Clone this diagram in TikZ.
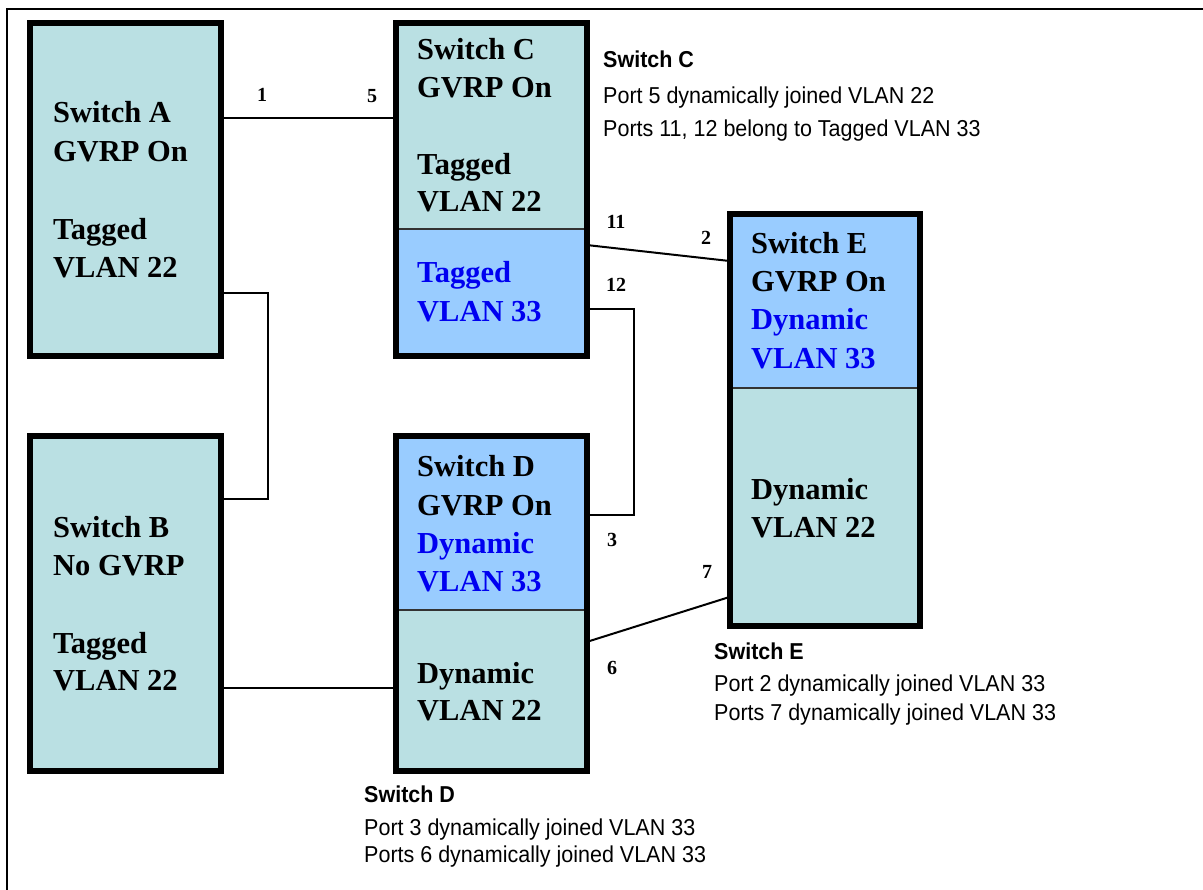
\documentclass[tikz,border=0pt]{standalone}
\usepackage{fontspec}
\setmainfont{Liberation Serif}
\newfontfamily\notefam[FakeStretch=0.935]{Liberation Sans}
\newcommand\boxfont{\fontsize{30.5}{38}\selectfont\bfseries}
\newcommand\portfont{\fontsize{20}{24}\selectfont\bfseries}
\newcommand\notefont{\notefam\fontsize{23}{30}\selectfont}
\definecolor{cyanbox}{HTML}{BAE0E3}
\definecolor{bluebox}{HTML}{99CCFF}
\definecolor{bluetxt}{HTML}{0000F0}
\tikzset{
  swbox/.style={draw=black, line width=6pt, inner sep=0pt, outer sep=0pt, rectangle},
  divider/.style={draw=black!80, line width=1.5pt},
  link/.style={draw=black, line width=2pt},
  frame/.style={draw=black, line width=2.5pt},
  port/.style={font=\portfont, inner sep=0pt, anchor=center},
  boxtxt/.style={font=\boxfont, inner sep=0pt, anchor=base west},
  dyn/.style={boxtxt, text=bluetxt},
  note/.style={font=\notefont, inner sep=0pt, anchor=base west},
}
\begin{document}
\begin{tikzpicture}[x=1pt, y=-1pt]
\useasboundingbox (0,0) rectangle (1203,890);
% outer frame (only top and left edges visible)
\coordinate (fbl) at (7,890);
\coordinate (ftl) at (7,9);
\coordinate (ftr) at (1203,9);
\draw[frame] (fbl) -- (ftl) -- (ftr);

% fills of split boxes
\fill[cyanbox] (396,23) rectangle (586.5,229);
\fill[bluebox] (396,229) rectangle (586.5,356);
\fill[bluebox] (396,436) rectangle (586.5,610);
\fill[cyanbox] (396,610) rectangle (586.5,771);
\fill[bluebox] (729.5,214) rectangle (920,388);
\fill[cyanbox] (729.5,388) rectangle (920,626);

% dividers
\draw[divider] (396,229) -- (586.5,229);
\draw[divider] (396,610) -- (586.5,610);
\draw[divider] (729.5,388) -- (920,388);

% boxes
\node[swbox, fill=cyanbox, minimum width=191pt, minimum height=333pt] (A) at (125.5,189.5) {};
\node[swbox, fill=cyanbox, minimum width=191pt, minimum height=335pt] (B) at (125.5,603.5) {};
\node[swbox, minimum width=190.5pt, minimum height=333pt] (C) at (491.25,189.5) {};
\node[swbox, minimum width=190.5pt, minimum height=335pt] (D) at (491.25,603.5) {};
\node[swbox, minimum width=190.5pt, minimum height=412pt] (E) at (824.75,420) {};

% connectors
\draw[link] (A.east |- 0,118) -- (C.west |- 0,118);
\coordinate (abt) at (268,293);
\coordinate (abb) at (268,499);
\draw[link] (A.east |- abt) -- (abt) -- (abb) -- (B.east |- abb);
\draw[link] (B.east |- 0,688) -- (D.west |- 0,688);
\coordinate (ce1) at (588,245);
\coordinate (ce2) at (729,261);
\draw[link] (C.east |- ce1) -- (E.west |- ce2);
\coordinate (cdt) at (634,309);
\coordinate (cdb) at (634,515);
\draw[link] (C.east |- cdt) -- (cdt) -- (cdb) -- (D.east |- cdb);
\coordinate (de1) at (588,642);
\coordinate (de2) at (729,597);
\draw[link] (D.east |- de1) -- (E.west |- de2);

% port labels
\node[port] (p1) at (262,95) {1};
\node[port] (p5) at (372,96) {5};
\node[port] (p11) at (616,222) {11};
\node[port] (p12) at (616,285) {12};
\node[port] (p2) at (706,238) {2};
\node[port] (p3) at (612,540) {3};
\node[port] (p7) at (707,572) {7};
\node[port] (p6) at (612,668) {6};

% box A text
\node[boxtxt] (a1) at (53,123) {Switch A};
\node[boxtxt] (a2) at (53,162) {GVRP On};
\node[boxtxt] (a3) at (53,240) {Tagged};
\node[boxtxt] (a4) at (53,278) {VLAN 22};
% box B text
\node[boxtxt] (b1) at (53,538) {Switch B};
\node[boxtxt] (b2) at (53,576) {No GVRP};
\node[boxtxt] (b3) at (53,653) {Tagged};
\node[boxtxt] (b4) at (53,690) {VLAN 22};
% box C text
\node[boxtxt] (c1) at (417,60) {Switch C};
\node[boxtxt] (c2) at (417,98) {GVRP On};
\node[boxtxt] (c3) at (417,175) {Tagged};
\node[boxtxt] (c4) at (417,212) {VLAN 22};
\node[dyn] (c5) at (417,283) {Tagged};
\node[dyn] (c6) at (417,322) {VLAN 33};
% box D text
\node[boxtxt] (d1) at (417,477) {Switch D};
\node[boxtxt] (d2) at (417,515) {GVRP On};
\node[dyn] (d3) at (417,554) {Dynamic};
\node[dyn] (d4) at (417,591) {VLAN 33};
\node[boxtxt] (d5) at (417,683) {Dynamic};
\node[boxtxt] (d6) at (417,720) {VLAN 22};
% box E text
\node[boxtxt] (e1) at (751,254) {Switch E};
\node[boxtxt] (e2) at (751,292) {GVRP On};
\node[dyn] (e3) at (751,330) {Dynamic};
\node[dyn] (e4) at (751,369) {VLAN 33};
\node[boxtxt] (e5) at (751,500) {Dynamic};
\node[boxtxt] (e6) at (751,538) {VLAN 22};

% notes
\node[note] (nc1) at (603,68) {\bfseries Switch C};
\node[note] (nc2) at (603,104) {Port 5 dynamically joined VLAN 22};
\node[note] (nc3) at (603,137) {Ports 11, 12 belong to Tagged VLAN 33};
\node[note] (ne1) at (714,659) {\bfseries Switch E};
\node[note] (ne2) at (714,691) {Port 2 dynamically joined VLAN 33};
\node[note] (ne3) at (714,720) {Ports 7 dynamically joined VLAN 33};
\node[note] (nd1) at (364,802) {\bfseries Switch D};
\node[note] (nd2) at (364,835) {Port 3 dynamically joined VLAN 33};
\node[note] (nd3) at (364,862) {Ports 6 dynamically joined VLAN 33};
\end{tikzpicture}
\end{document}
